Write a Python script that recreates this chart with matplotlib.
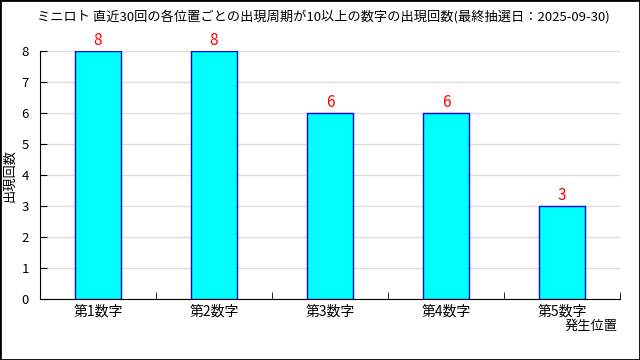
import numpy as np
import matplotlib
matplotlib.use("Agg")
import matplotlib.pyplot as plt
from matplotlib.patches import Rectangle

plt.rcParams['font.family'] = ['Noto Sans CJK JP', 'DejaVu Sans']

# --- Data ---
title = "ミニロト 直近30回の各位置ごとの出現周期が10以上の数字の出現回数(最終抽選日：2025-09-30)"
positions = ["第1数字", "第2数字", "第3数字", "第4数字", "第5数字"]
counts = [8, 8, 6, 6, 3]
y_ticks = [0, 1, 2, 3, 4, 5, 6, 7, 8]

# --- Plotting ---
fig = plt.figure(figsize=(6.4, 3.6), dpi=100)
ax = fig.add_axes([40 / 640, 1 - 299 / 360, 580 / 640, 248 / 360])

x = np.arange(len(positions))
ax.bar(x, counts, width=0.4, color="#00ffff", edgecolor="#0000ff", linewidth=1, zorder=3)
for xi, c in zip(x, counts):
    ax.text(xi, c + 0.08, str(c), ha="center", va="bottom", color="red", fontsize=11)

ax.set_xlim(-0.5, len(positions) - 0.5)
ax.set_ylim(0, 8)
ax.set_yticks(y_ticks)
ax.yaxis.grid(True, color="#dddddd", linewidth=1, zorder=0)
ax.set_xticks(x)
ax.set_xticklabels(positions)
ax.set_xticks(np.arange(len(positions) + 1) - 0.5, minor=True)
ax.tick_params(axis="x", which="major", length=0, labelsize=10, pad=4)
ax.tick_params(axis="x", which="minor", direction="in", length=5, color="black")
ax.tick_params(axis="y", direction="in", length=5, labelsize=9.5, pad=8)

for s in ["top", "right"]:
    ax.spines[s].set_visible(False)

fig.text(10 / 640, 1 - 175 / 360, "出現回数", ha="center", va="center", rotation=90, fontsize=9.5)
fig.text(618 / 640, 1 - 326 / 360, "発生位置", ha="right", va="center", fontsize=9.5)
fig.text(323 / 640, 1 - 17 / 360, title, ha="center", va="center", fontsize=9.5)

fig.patches.append(Rectangle((0, 0), 1, 1, transform=fig.transFigure, fill=False,
                             edgecolor="black", linewidth=2))

fig.savefig("out.png", dpi=100)
